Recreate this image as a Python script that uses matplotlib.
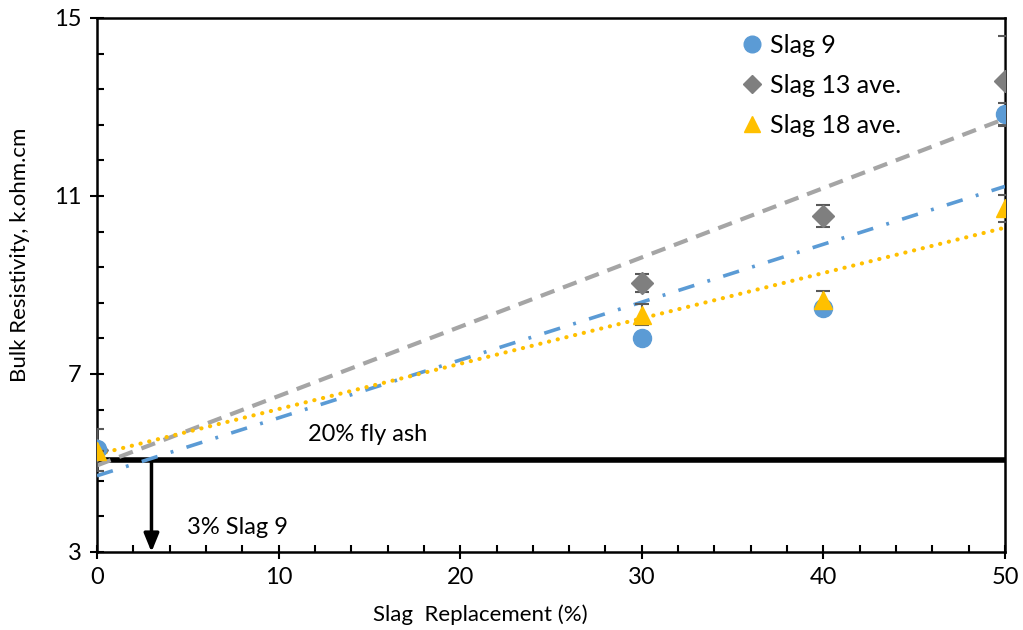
import numpy as np
import matplotlib
matplotlib.use("Agg")
import matplotlib.pyplot as plt
from matplotlib.ticker import FixedLocator
from matplotlib.lines import Line2D

plt.rcParams['font.family'] = ['Lato', 'DejaVu Sans']

# ---- data ----
slag_pct = [0, 30, 40, 50]
slag9 = [5.32, 7.81, 8.49, 12.84]
slag9_err = [0.0, 0.0, 0.0, 0.25]
slag13 = [5.30, 9.05, 10.55, 13.58]
slag13_err = [0.47, 0.20, 0.24, 1.01]
slag18 = [5.28, 8.33, 8.67, 10.72]
slag18_err = [0.0, 0.24, 0.2, 0.30]
x_ticks = [0, 10, 20, 30, 40, 50]
y_ticks = [3, 7, 11, 15]
fly_ash_level = 5.07
fly_ash_label = "20% fly ash"
crossing_pct = 3
crossing_label = "3% Slag 9"

BLUE = '#5B9BD5'
GRAY = '#7F7F7F'
LGRAY = '#A5A5A5'
YEL = '#FFC000'
ECOL = '#595959'

fig = plt.figure(figsize=(10.23, 6.30), dpi=100)
ax = fig.add_axes([97/1023, 1-552/630, (1005-97)/1023, (552-18)/630])

x = np.array(slag_pct, dtype=float)
xfit = np.array([0, 50], dtype=float)

# trendlines (linear fits)
styles = [(slag13, LGRAY, (0, (3.5, 2.2)), 3.0, 'butt'),
          (slag9, BLUE, (0, (4.6, 3.8, 0.8, 3.8)), 2.6, 'butt'),
          (slag18, YEL, (0, (0.05, 2.1)), 3.0, 'round')]
for ys, col, ls, lw, cap in styles:
    p = np.polyfit(x, np.array(ys), 1)
    ax.plot(xfit, np.polyval(p, xfit), color=col, ls=ls, lw=lw, zorder=4,
            dash_capstyle=cap)

# fly ash reference line
ax.plot([0, 50], [fly_ash_level, fly_ash_level], color='black', lw=4, zorder=3,
        solid_capstyle='butt')
ax.annotate('', xy=(crossing_pct, 3.0), xytext=(crossing_pct, fly_ash_level),
            arrowprops=dict(arrowstyle='-|>,head_width=0.45,head_length=1.1',
                            color='black', lw=2.5, shrinkA=0, shrinkB=0),
            zorder=3)
ax.text(11.6, 5.63, fly_ash_label, fontsize=17, va='center', ha='left')
ax.text(4.96, 3.56, crossing_label, fontsize=17, va='center', ha='left')

# data points with error bars
ax.errorbar(x, slag13, yerr=slag13_err, fmt='D', color=GRAY, ms=11,
            ecolor=ECOL, elinewidth=1.5, capsize=5, capthick=1.5, zorder=5)
ax.errorbar(x, slag9, yerr=slag9_err, fmt='o', color=BLUE, ms=13,
            ecolor=ECOL, elinewidth=1.5, capsize=5, capthick=1.5, zorder=6)
ax.errorbar(x, slag18, yerr=slag18_err, fmt='^', color=YEL, ms=13.5,
            ecolor=ECOL, elinewidth=1.5, capsize=5, capthick=1.5, zorder=7)

ax.set_xlim(0, 50)
ax.set_ylim(3, 15)
ax.xaxis.set_major_locator(FixedLocator(x_ticks))
ax.xaxis.set_minor_locator(FixedLocator(np.arange(0, 50.01, 2)))
ax.yaxis.set_major_locator(FixedLocator(y_ticks))
ax.yaxis.set_minor_locator(FixedLocator(np.arange(3, 15.01, 0.8)))
ax.tick_params(which='major', direction='inout', length=10, width=1.5,
               labelsize=17, pad=6, color='black')
ax.tick_params(which='minor', direction='in', length=5, width=1.5, color='black')
for s in ax.spines.values():
    s.set_linewidth(1.8)
    s.set_color('black')

ax.set_xlabel("Slag  Replacement (%)", fontsize=16)
ax.xaxis.set_label_coords((480-97)/908, -0.098)
ax.set_ylabel("Bulk Resistivity, k.ohm.cm", fontsize=16)
ax.yaxis.set_label_coords(-0.074, (552-255)/534)

handles = [Line2D([], [], ls='', marker='o', color=BLUE, ms=12),
           Line2D([], [], ls='', marker='D', color=GRAY, ms=9),
           Line2D([], [], ls='', marker='^', color=YEL, ms=12)]
ax.legend(handles, ["Slag 9", "Slag 13 ave.", "Slag 18 ave."], loc='upper left',
          bbox_to_anchor=((742-97)/908, 1-(34-18)/534), frameon=False,
          fontsize=18, handlelength=0.8, handletextpad=0.3, labelspacing=0.68,
          borderaxespad=0, borderpad=0)

fig.savefig("out.png", dpi=100)
